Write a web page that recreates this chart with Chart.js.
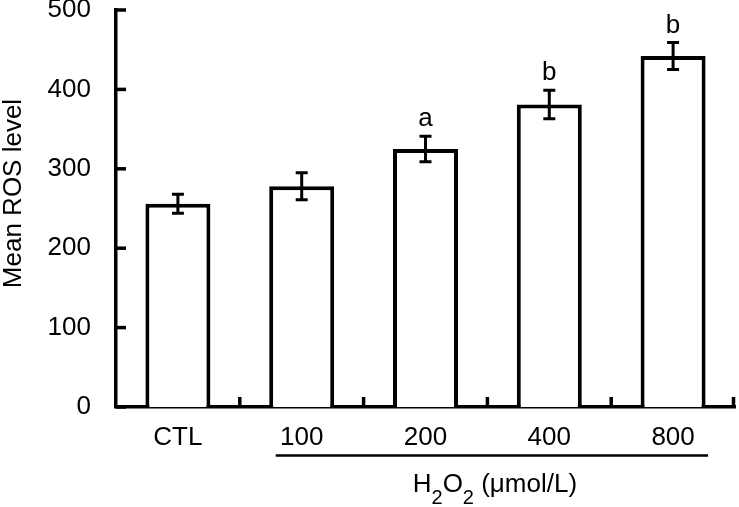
<!DOCTYPE html>
<html>
<head>
<meta charset="utf-8">
<style>
  html, body { margin: 0; padding: 0; background: #fff; }
  #wrap { width: 739px; height: 507px; position: relative; }
</style>
<script src="https://cdn.jsdelivr.net/npm/chart.js@4/dist/chart.umd.min.js"></script>
</head>
<body>
<div id="wrap"><canvas id="c" width="739" height="507"></canvas></div>
<script>
const categories = ['CTL', '100', '200', '400', '800'];
const means = [256, 278, 325, 381, 442];
const errors = [12, 17, 16, 18, 17];
const letters = ['', '', 'a', 'b', 'b'];
const yTicks = [0, 100, 200, 300, 400, 500];
const yTitle = 'Mean ROS level';

const FONT = '"Liberation Sans", Arial, sans-serif';

const decor = {
  id: 'decor',
  afterDatasetsDraw(chart) {
    const ctx = chart.ctx;
    const y = chart.scales.y;
    const meta = chart.getDatasetMeta(0);
    ctx.save();
    ctx.strokeStyle = '#000';
    ctx.fillStyle = '#000';
    ctx.lineWidth = 3;
    meta.data.forEach((bar, i) => {
      const x = bar.x;
      const yt = y.getPixelForValue(means[i] + errors[i]);
      const yb = y.getPixelForValue(means[i] - errors[i]);
      ctx.beginPath();
      ctx.moveTo(x, yt); ctx.lineTo(x, yb);
      ctx.moveTo(x - 6, yt); ctx.lineTo(x + 6, yt);
      ctx.moveTo(x - 6, yb); ctx.lineTo(x + 6, yb);
      ctx.stroke();
      if (letters[i]) {
        ctx.font = '26px ' + FONT;
        ctx.textAlign = 'center';
        ctx.textBaseline = 'alphabetic';
        ctx.fillText(letters[i], x, yt - 10);
      }
    });
    ctx.restore();
  },
  afterDraw(chart) {
    const ctx = chart.ctx;
    const ca = chart.chartArea;
    const y = chart.scales.y;
    const meta = chart.getDatasetMeta(0);
    ctx.save();
    ctx.strokeStyle = '#000';
    ctx.fillStyle = '#000';
    ctx.lineWidth = 3.5;
    yTicks.forEach(v => {
      const py = y.getPixelForValue(v);
      ctx.beginPath();
      ctx.moveTo(ca.left, py); ctx.lineTo(ca.left + 10, py);
      ctx.stroke();
    });
    const xs = meta.data.map(b => b.x);
    const bounds = [];
    for (let i = 0; i < xs.length - 1; i++) bounds.push((xs[i] + xs[i + 1]) / 2);
    bounds.push(ca.right - 1.5);
    bounds.forEach(bx => {
      ctx.beginPath();
      ctx.moveTo(bx, ca.bottom); ctx.lineTo(bx, ca.bottom - 10);
      ctx.stroke();
    });
    ctx.lineWidth = 2.5;
    ctx.beginPath();
    ctx.moveTo(xs[1] - 26, 455.5); ctx.lineTo(xs[4] + 35, 455.5);
    ctx.stroke();
    const parts = [['H', 26, 0], ['2', 20, 12], ['O', 26, 0], ['2', 20, 12], [' (\u03bcmol/L)', 26, 0]];
    let total = 0;
    parts.forEach(p => { ctx.font = p[1] + 'px ' + FONT; total += ctx.measureText(p[0]).width; });
    let cx = (xs[1] - 26 + xs[4] + 35) / 2 - total / 2 + 3;
    ctx.textAlign = 'left';
    ctx.textBaseline = 'alphabetic';
    parts.forEach(p => {
      ctx.font = p[1] + 'px ' + FONT;
      ctx.fillText(p[0], cx, 492 + p[2]);
      cx += ctx.measureText(p[0]).width;
    });
    ctx.save();
    ctx.translate(21, 193.5);
    ctx.rotate(-Math.PI / 2);
    ctx.font = '26px ' + FONT;
    ctx.textAlign = 'center';
    ctx.textBaseline = 'alphabetic';
    ctx.fillText(yTitle, 0, 0);
    ctx.restore();
    ctx.restore();
  }
};

new Chart(document.getElementById('c'), {
  type: 'bar',
  data: {
    labels: categories,
    datasets: [{
      data: means,
      backgroundColor: '#ffffff',
      borderColor: '#000000',
      borderWidth: 4,
      borderSkipped: 'start',
      categoryPercentage: 1.0,
      barPercentage: 0.525
    }]
  },
  options: {
    responsive: false,
    animation: false,
    devicePixelRatio: 1,
    layout: { padding: { top: 10, right: 4, left: 0, bottom: 0 } },
    plugins: { legend: { display: false }, tooltip: { enabled: false } },
    scales: {
      x: {
        grid: { display: false },
        border: { display: true, color: '#000', width: 3.5 },
        ticks: { color: '#000', font: { family: FONT, size: 26 }, padding: 7, maxRotation: 0 },
        afterFit: s => { s.height = 100; s.paddingLeft = 0; s.paddingRight = 0; }
      },
      y: {
        min: 0, max: 500,
        grid: { display: false },
        border: { display: true, color: '#000', width: 3.5 },
        ticks: { color: '#000', font: { family: FONT, size: 26 }, padding: 17, stepSize: 100 },
        afterFit: s => { s.width = 116; s.paddingTop = 0; s.paddingBottom = 0; }
      }
    }
  },
  plugins: [decor]
});
</script>
</body>
</html>
